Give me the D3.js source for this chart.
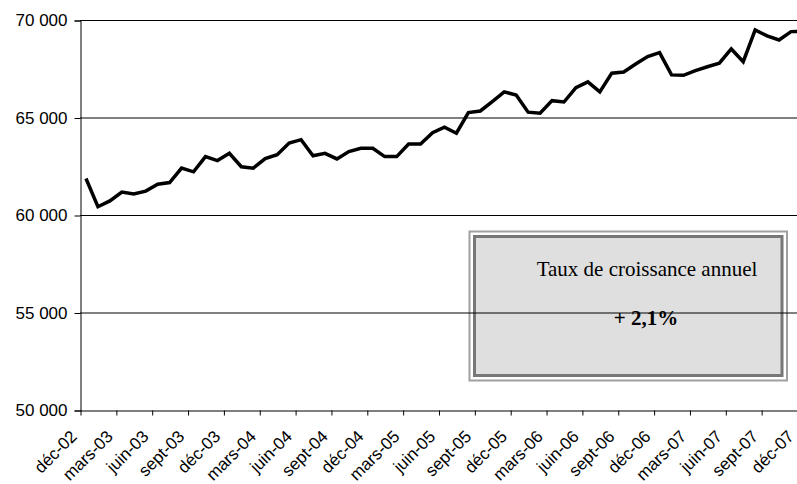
<!DOCTYPE html>
<html>
<head>
<meta charset="utf-8">
<script src="https://cdn.jsdelivr.net/npm/d3@7"></script>
<style>
  html, body { margin: 0; padding: 0; background: #fff; overflow: hidden; }
  svg { display: block; }
</style>
</head>
<body>
<script>
const categories = [
  "déc-02",
  "janv-03","févr-03","mars-03","avr-03","mai-03","juin-03","juil-03","août-03","sept-03","oct-03","nov-03","déc-03",
  "janv-04","févr-04","mars-04","avr-04","mai-04","juin-04","juil-04","août-04","sept-04","oct-04","nov-04","déc-04",
  "janv-05","févr-05","mars-05","avr-05","mai-05","juin-05","juil-05","août-05","sept-05","oct-05","nov-05","déc-05",
  "janv-06","févr-06","mars-06","avr-06","mai-06","juin-06","juil-06","août-06","sept-06","oct-06","nov-06","déc-06",
  "janv-07","févr-07","mars-07","avr-07","mai-07","juin-07","juil-07","août-07","sept-07","oct-07","nov-07","déc-07"
];
const values = [
  61900,
  60450, 60750, 61200, 61100, 61250, 61600, 61690, 62430, 62240, 63020, 62815, 63190,
  62500, 62430, 62920, 63120, 63720, 63890, 63060, 63190, 62900, 63280, 63450, 63450,
  63020, 63020, 63670, 63670, 64250, 64530, 64220, 65275, 65360, 65840, 66340, 66180,
  65300, 65245, 65890, 65820, 66560, 66850, 66340, 67300, 67360, 67770, 68150, 68350,
  67210, 67190, 67430, 67630, 67810, 68540, 67890, 69515, 69210, 69000, 69430, 69450
];
const tickLabels = ["déc-02","mars-03","juin-03","sept-03","déc-03","mars-04","juin-04","sept-04","déc-04",
  "mars-05","juin-05","sept-05","déc-05","mars-06","juin-06","sept-06","déc-06","mars-07","juin-07","sept-07","déc-07"];
const yTicks = [50000, 55000, 60000, 65000, 70000];
const boxTitle = "Taux de croissance annuel";
const boxValue = "+ 2,1%";

const W = 797, H = 484;
const left = 80, bandW = 11.95;
const svg = d3.select("body").append("svg").attr("width", W).attr("height", H);

const xi = d3.scaleLinear().domain([0, categories.length]).range([left, left + categories.length * bandW]);
const y = d3.scaleLinear().domain([50000, 70000]).range([410.5, 20.5]);
const fmt = v => d3.format(",")(v).replace(/,/g, "\u00a0");

// box (behind gridlines)
const box = svg.append("g");
box.append("rect").attr("x", 469.5).attr("y", 231.5).attr("width", 317.5).attr("height", 149)
  .attr("fill", "none").attr("stroke", "#a0a0a0").attr("stroke-width", 2);
box.append("rect").attr("x", 474.5).attr("y", 236.5).attr("width", 307.5).attr("height", 139)
  .attr("fill", "#dfdfdf").attr("stroke", "#777").attr("stroke-width", 3);

// gridlines
svg.append("g").selectAll("line").data(yTicks.filter(v => v > 50000)).join("line")
  .attr("x1", left).attr("x2", W).attr("y1", d => y(d)).attr("y2", d => y(d))
  .attr("stroke", "#000").attr("stroke-width", 1);

svg.append("text").attr("x", 647).attr("y", 276).attr("text-anchor", "middle")
  .attr("font-family", "Liberation Serif, Times New Roman, serif").attr("font-size", 21)
  .attr("fill", "#000").text(boxTitle);
svg.append("text").attr("x", 646).attr("y", 325).attr("text-anchor", "middle")
  .attr("font-family", "Liberation Serif, Times New Roman, serif").attr("font-size", 21)
  .attr("font-weight", "bold").attr("fill", "#000").text(boxValue);

// y axis
const yAxis = d3.axisLeft(y).tickValues(yTicks).tickSize(6).tickPadding(7).tickFormat(fmt);
const gy = svg.append("g").attr("transform", `translate(${left + 0.5},0)`).call(yAxis);
gy.select(".domain").attr("stroke", "#000");
gy.selectAll(".tick line").attr("stroke", "#000");
gy.selectAll("text").attr("font-family", "Liberation Sans, Arial, sans-serif").attr("font-size", 17).attr("fill", "#000");

// x axis: tick marks at category boundaries every 3
const boundaryTicks = d3.range(0, categories.length, 3);
const xAxisTicks = d3.axisBottom(xi).tickValues(boundaryTicks).tickSize(5).tickSizeOuter(0).tickFormat(() => "");
const gx = svg.append("g").attr("transform", `translate(0,${y(50000)})`).call(xAxisTicks);
gx.select(".domain").attr("stroke", "#000");
gx.selectAll(".tick line").attr("stroke", "#000").attr("transform", "translate(0.5,0)");

// x labels
const labelIdx = tickLabels.map(l => categories.indexOf(l));
svg.append("g").selectAll("text").data(labelIdx).join("text")
  .attr("transform", d => `translate(${xi(d + 0.5) - 8},${y(50000) + 27}) rotate(-45)`)
  .attr("text-anchor", "end")
  .attr("font-family", "Liberation Sans, Arial, sans-serif").attr("font-size", 17).attr("fill", "#000")
  .text(d => categories[d]);

// line
const line = d3.line().x((d, i) => xi(i + 0.5)).y(d => y(d));
svg.append("path").datum(values).attr("d", line)
  .attr("fill", "none").attr("stroke", "#000").attr("stroke-width", 3.5).attr("stroke-linejoin", "miter");
</script>
</body>
</html>
